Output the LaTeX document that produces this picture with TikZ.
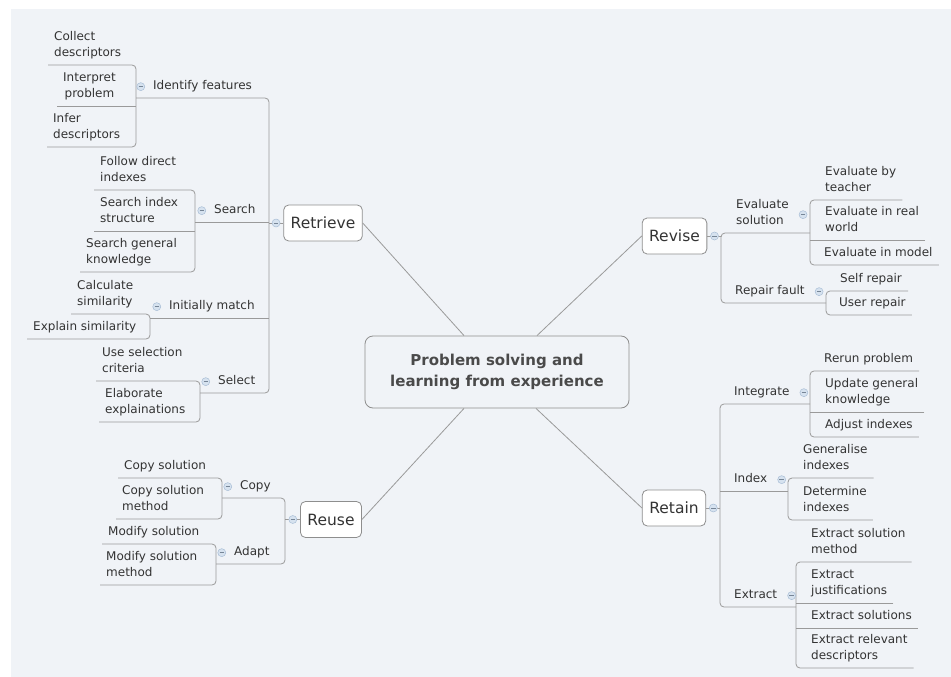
\documentclass[tikz,border=0pt]{standalone}
\usepackage{fontspec}
\setmainfont{DejaVu Sans}
\usetikzlibrary{positioning}
\definecolor{MapBack}{HTML}{F0F3F7}
\definecolor{MapLine}{HTML}{9A9A9A}
\definecolor{MapBorder}{HTML}{8E8E8E}
\definecolor{MapText}{HTML}{333333}
\definecolor{HubText}{HTML}{4A4A4A}
\definecolor{ToggleFill}{HTML}{D6E2EF}
\definecolor{ToggleDraw}{HTML}{A9BED6}
\newcommand\leaffont{\fontsize{12}{16.3}\selectfont}
\newcommand\branchfont{\fontsize{15.5}{18}\selectfont}
\newcommand\hubfont{\fontsize{15}{21}\selectfont\bfseries}

\tikzset{
  link/.style={draw=MapLine, line width=0.8pt, rounded corners=4pt},
  leaf/.style={anchor=south west, align=left, inner xsep=6pt, inner ysep=3pt,
               text=MapText, font=\leaffont, execute at end node=\strut},
  branch/.style={draw=MapBorder, fill=white, rounded corners=5pt, line width=0.8pt,
                 minimum height=36pt, inner xsep=7pt, text=MapText, font=\branchfont},
  hub/.style={draw=MapBorder, fill=MapBack, rounded corners=8pt, line width=0.8pt,
              minimum width=264pt, minimum height=72pt, align=center,
              text=HubText, font=\hubfont},
  toggle/.style={circle, minimum size=8pt, inner sep=0pt, draw=ToggleDraw, fill=ToggleFill,
                 line width=0.5pt,
                 path picture={\draw[ToggleDraw!70!black, line width=0.6pt]
                   ([xshift=-2.2pt]path picture bounding box.center) --
                   ([xshift=2.2pt]path picture bounding box.center);}}
}

\begin{document}
\begin{tikzpicture}[x=1pt, y=-1pt]
\useasboundingbox (0,0) rectangle (951,677);
\fill[MapBack] (11,9) rectangle (951,677);

% centre and main branches
\node[hub] (core) at (497,372) {Problem solving and\\learning from experience};
\node[branch] (ret) at (323,223) {Retrieve};
\node[branch] (rev) at (674.5,236) {Revise};
\node[branch] (rtn) at (674,508) {Retain};
\node[branch] (reu) at (331,519.5) {Reuse};

\draw[link] ([xshift=-33pt]core.north) -- (ret.east);
\draw[link] ([xshift=40pt]core.north) -- (rev.west);
\draw[link] ([xshift=-33pt]core.south) -- (reu.east);
\draw[link] ([xshift=39pt]core.south) -- (rtn.west);

% trunks
\coordinate (tRet) at (269,0);
\coordinate (tIdf) at (136,0);
\coordinate (tSrch) at (195,0);
\coordinate (tImat) at (150,0);
\coordinate (tSel) at (200,0);
\coordinate (tReu) at (285,0);
\coordinate (tCopy) at (222,0);
\coordinate (tAdapt) at (216,0);
\coordinate (tRev) at (721,0);
\coordinate (tEvs) at (810,0);
\coordinate (tRpf) at (826,0);
\coordinate (tRtn) at (720,0);
\coordinate (tIntg) at (810,0);
\coordinate (tIdx) at (788,0);
\coordinate (tExt) at (796,0);

% Retrieve
\node[leaf] (idf) at (147,98) {Identify features};
\node[leaf] (srch) at (208,222) {Search};
\node[leaf] (imat) at (163,318) {Initially match};
\node[leaf] (sel) at (212,393) {Select};

\node[leaf] (cdesc) at (48,65) {Collect\\descriptors};
\node[leaf, align=center] (iprob) at (57,106) {Interpret\\problem};
\node[leaf] (idesc) at (47,147) {Infer\\descriptors};
\node[leaf] (fdi) at (94,190) {Follow direct\\indexes};
\node[leaf] (sis) at (94,231) {Search index\\structure};
\node[leaf] (sgk) at (80,272) {Search general\\knowledge};
\node[leaf] (csim) at (71,314) {Calculate\\similarity};
\node[leaf] (esim) at (27,339) {Explain similarity};
\node[leaf] (usc) at (96,381) {Use selection\\criteria};
\node[leaf] (eexp) at (99,422) {Elaborate\\explainations};

\draw[link] (idf.south -| tIdf) -- (idf.south -| tRet) -- (sel.south -| tRet) -- (sel.south -| tSel);
\draw[link] (srch.south -| tSrch) -- (srch.south -| tRet);
\draw[link] (imat.south -| tImat) -- (imat.south -| tRet);
\draw[link] (tRet |- ret.west) -- (ret.west);

\draw[link] (cdesc.south west) -- (cdesc.south west -| tIdf) -- (idesc.south west -| tIdf) -- (idesc.south west);
\draw[link] (iprob.south west) -- (iprob.south west -| tIdf);
\draw[link] (fdi.south west) -- (fdi.south west -| tSrch) -- (sgk.south west -| tSrch) -- (sgk.south west);
\draw[link] (sis.south west) -- (sis.south west -| tSrch);
\draw[link] (csim.south west) -- (csim.south west -| tImat) -- (esim.south west -| tImat) -- (esim.south west);
\draw[link] (usc.south west) -- (usc.south west -| tSel) -- (eexp.south west -| tSel) -- (eexp.south west);

% Reuse
\node[leaf] (copy) at (234,498) {Copy};
\node[leaf] (adapt) at (228,564) {Adapt};

\node[leaf] (csol) at (118,478) {Copy solution};
\node[leaf] (csm) at (116,519) {Copy solution\\method};
\node[leaf] (msol) at (102,544) {Modify solution};
\node[leaf] (msm) at (100,585) {Modify solution\\method};

\draw[link] (copy.south -| tCopy) -- (copy.south -| tReu) -- (adapt.south -| tReu) -- (adapt.south -| tAdapt);
\draw[link] (tReu |- reu.west) -- (reu.west);
\draw[link] (csol.south west) -- (csol.south west -| tCopy) -- (csm.south west -| tCopy) -- (csm.south west);
\draw[link] (msol.south west) -- (msol.south west -| tAdapt) -- (msm.south west -| tAdapt) -- (msm.south west);

% Revise
\node[leaf] (evs) at (730,233) {Evaluate\\solution};
\node[leaf] (rpf) at (729,303) {Repair fault};

\node[leaf] (ebt) at (819,200) {Evaluate by\\teacher};
\node[leaf] (erw) at (819,240) {Evaluate in real\\world};
\node[leaf] (eim) at (818,265) {Evaluate in model};
\node[leaf] (srep) at (834,291) {Self repair};
\node[leaf] (urep) at (833,315) {User repair};

\draw[link] (evs.south -| tEvs) -- (evs.south -| tRev) -- (rpf.south -| tRev) -- (rpf.south -| tRpf);
\draw[link] (tRev |- rev.east) -- (rev.east);
\draw[link] (ebt.south east) -- (ebt.south east -| tEvs) -- (eim.south east -| tEvs) -- (eim.south east);
\draw[link] (erw.south east) -- (erw.south east -| tEvs);
\draw[link] (srep.south east) -- (srep.south east -| tRpf) -- (urep.south east -| tRpf) -- (urep.south east);

% Retain
\node[leaf] (intg) at (728,404) {Integrate};
\node[leaf] (idx) at (728,491) {Index};
\node[leaf] (ext) at (728,607) {Extract};

\node[leaf] (rrp) at (818,371) {Rerun problem};
\node[leaf] (ugk) at (819,412) {Update general\\knowledge};
\node[leaf] (adj) at (819,437) {Adjust indexes};
\node[leaf] (gix) at (797,478) {Generalise\\indexes};
\node[leaf] (dix) at (797,520) {Determine\\indexes};
\node[leaf] (esm) at (805,562) {Extract solution\\method};
\node[leaf] (ejs) at (805,603) {Extract\\justifications};
\node[leaf] (esol) at (805,628) {Extract solutions};
\node[leaf] (erd) at (805,668) {Extract relevant\\descriptors};

\draw[link] (intg.south -| tIntg) -- (intg.south -| tRtn) -- (ext.south -| tRtn) -- (ext.south -| tExt);
\draw[link] (idx.south -| tIdx) -- (idx.south -| tRtn);
\draw[link] (tRtn |- rtn.east) -- (rtn.east);
\draw[link] (rrp.south east) -- (rrp.south east -| tIntg) -- (adj.south east -| tIntg) -- (adj.south east);
\draw[link] (ugk.south east) -- (ugk.south east -| tIntg);
\draw[link] (gix.south east) -- (gix.south east -| tIdx) -- (dix.south east -| tIdx) -- (dix.south east);
\draw[link] (esm.south east) -- (esm.south east -| tExt) -- (erd.south east -| tExt) -- (erd.south east);
\draw[link] (ejs.south east) -- (ejs.south east -| tExt);
\draw[link] (esol.south east) -- (esol.south east -| tExt);

% collapse toggles
\node[toggle, left=3pt of ret] (kRet) {};
\node[toggle, left=3pt of reu] (kReu) {};
\node[toggle, right=3pt of rev] (kRev) {};
\node[toggle, right=3pt of rtn] (kRtn) {};
\node[toggle, left=2pt of idf] (kIdf) {};
\node[toggle, left=2pt of srch] (kSrch) {};
\node[toggle, left=2pt of imat] (kImat) {};
\node[toggle, left=2pt of sel] (kSel) {};
\node[toggle, left=2pt of copy] (kCopy) {};
\node[toggle, left=2pt of adapt] (kAdapt) {};
\node[toggle, right=4pt of evs] (kEvs) {};
\node[toggle, right=4pt of rpf] (kRpf) {};
\node[toggle, right=4pt of intg] (kIntg) {};
\node[toggle, right=4pt of idx] (kIdx) {};
\node[toggle, right=4pt of ext] (kExt) {};
\end{tikzpicture}
\end{document}
